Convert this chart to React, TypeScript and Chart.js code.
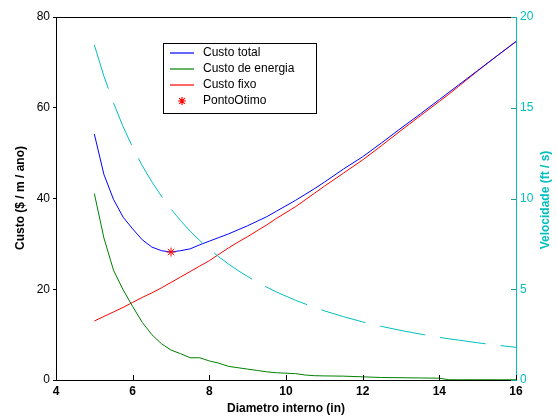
import React, { useEffect, useRef } from "react";
import { Chart, registerables } from "chart.js";

Chart.register(...registerables);

const diameters = [5, 5.25, 5.5, 5.75, 6, 6.25, 6.5, 6.75, 7, 7.25, 7.5, 7.75, 8, 8.25, 8.5, 8.75, 9, 9.25, 9.5, 9.75, 10, 10.25, 10.5, 10.75, 11, 11.5, 12, 12.5, 13, 13.5, 14, 14.25, 14.5, 15, 15.5, 16];
const totalCost = [54.2, 45.3, 39.8, 35.9, 33.3, 30.9, 29.3, 28.5, 28.2, 28.5, 28.9, 29.8, 30.6, 31.4, 32.2, 33.1, 34.0, 35.0, 36.0, 37.2, 38.4, 39.6, 40.9, 42.2, 43.6, 46.5, 49.2, 52.3, 55.5, 58.6, 61.8, 63.4, 65.0, 68.2, 71.4, 74.6];
const energyCost = [41.1, 31.3, 24.2, 19.9, 16.2, 12.7, 10.0, 8.0, 6.6, 5.8, 4.9, 4.9, 4.2, 3.7, 3.0, 2.7, 2.4, 2.1, 1.8, 1.6, 1.5, 1.4, 1.1, 0.95, 0.9, 0.85, 0.7, 0.55, 0.5, 0.45, 0.4, 0.05, 0.05, 0.05, 0.05, 0.05];
const fixedCost = [13.0, 14.0, 15.0, 16.0, 17.1, 18.2, 19.2, 20.3, 21.5, 22.7, 23.9, 25.1, 26.3, 27.7, 29.1, 30.4, 31.6, 32.9, 34.2, 35.6, 36.9, 38.2, 39.7, 41.2, 42.7, 45.6, 48.5, 51.7, 55.0, 58.2, 61.4, 63.0, 64.7, 68.1, 71.4, 74.6];
const velocity = [18.46, 16.74, 15.26, 13.96, 12.82, 11.81, 10.92, 10.13, 9.42, 8.78, 8.20, 7.68, 7.21, 6.78, 6.39, 6.03, 5.70, 5.39, 5.11, 4.85, 4.62, 4.39, 4.19, 3.99, 3.81, 3.49, 3.20, 2.95, 2.73, 2.53, 2.35, 2.27, 2.20, 2.05, 1.92, 1.80];
const optimumX = [7];
const optimumY = [28.2];

const seriesLabels = ["Custo total", "Custo de energia", "Custo fixo", "PontoOtimo"];
const seriesColors = ["#0000ff", "#008000", "#ff0000", "#ff0000"];
const xTitle = "Diametro interno (in)";
const yTitle = "Custo ($ / m / ano)";
const y1Title = "Velocidade (ft / s)";

const FONT = "'Liberation Sans', Arial, Helvetica, sans-serif";
const CYAN = "#00bfbf";

const pts = (xs: number[], ys: number[]) => xs.map((x, i) => ({ x, y: ys[i] }));

const decorPlugin = {
  id: "decor",
  afterDraw(chart: any) {
    const { ctx, chartArea: a, scales } = chart;
    ctx.save();
    ctx.setLineDash([]);
    // top border
    ctx.strokeStyle = "#000000";
    ctx.lineWidth = 1;
    ctx.beginPath();
    ctx.moveTo(a.left, a.top + 0.5);
    ctx.lineTo(a.right, a.top + 0.5);
    ctx.stroke();
    // inward x ticks
    ctx.beginPath();
    scales.x.ticks.forEach((t: any) => {
      const px = Math.round(scales.x.getPixelForValue(t.value)) + 0.5;
      ctx.moveTo(px, a.bottom);
      ctx.lineTo(px, a.bottom - 5);
    });
    ctx.stroke();
    // inward right ticks
    ctx.strokeStyle = "#1a9f9f";
    ctx.beginPath();
    scales.y1.ticks.forEach((t: any) => {
      const py = Math.round(scales.y1.getPixelForValue(t.value)) + 0.5;
      ctx.moveTo(a.right, py);
      ctx.lineTo(a.right - 5, py);
    });
    ctx.stroke();

    // axis titles
    ctx.font = `bold 12px ${FONT}`;
    ctx.textAlign = "center";
    ctx.textBaseline = "middle";
    ctx.fillStyle = "#000000";
    ctx.fillText(xTitle, (a.left + a.right) / 2, 409);
    ctx.save();
    ctx.translate(21, 198);
    ctx.rotate(-Math.PI / 2);
    ctx.fillText(yTitle, 0, 0);
    ctx.restore();
    ctx.save();
    ctx.fillStyle = CYAN;
    ctx.translate(546, 200);
    ctx.rotate(-Math.PI / 2);
    ctx.fillText(y1Title, 0, 0);
    ctx.restore();

    // legend
    const lx = 163.5, ly = 43.5, lw = 153, lh = 70;
    ctx.fillStyle = "#ffffff";
    ctx.fillRect(lx, ly, lw, lh);
    ctx.strokeStyle = "#000000";
    ctx.lineWidth = 1;
    ctx.strokeRect(lx, ly, lw, lh);
    ctx.font = `12px ${FONT}`;
    ctx.textAlign = "left";
    ctx.textBaseline = "middle";
    seriesLabels.forEach((label, i) => {
      const ry = 53 + i * 16;
      ctx.strokeStyle = seriesColors[i];
      ctx.lineWidth = 1.2;
      if (i === 3) {
        const cx = 182, r = 4;
        ctx.beginPath();
        ctx.moveTo(cx - r, ry); ctx.lineTo(cx + r, ry);
        ctx.moveTo(cx, ry - r); ctx.lineTo(cx, ry + r);
        const q = r * 0.707;
        ctx.moveTo(cx - q, ry - q); ctx.lineTo(cx + q, ry + q);
        ctx.moveTo(cx - q, ry + q); ctx.lineTo(cx + q, ry - q);
        ctx.stroke();
      } else {
        ctx.beginPath();
        ctx.moveTo(170, ry);
        ctx.lineTo(194, ry);
        ctx.stroke();
      }
      ctx.fillStyle = "#000000";
      ctx.fillText(label, 203, ry);
    });
    ctx.restore();
  },
};

export default function App() {
  const ref = useRef<HTMLCanvasElement>(null);
  useEffect(() => {
    const chart = new Chart(ref.current as HTMLCanvasElement, {
      type: "line",
      data: {
        datasets: [
          { label: seriesLabels[0], data: pts(diameters, totalCost), borderColor: seriesColors[0], borderWidth: 1, pointRadius: 0, yAxisID: "y", order: 2 },
          { label: seriesLabels[1], data: pts(diameters, energyCost), borderColor: seriesColors[1], borderWidth: 1, pointRadius: 0, yAxisID: "y", order: 3 },
          { label: seriesLabels[2], data: pts(diameters, fixedCost), borderColor: seriesColors[2], borderWidth: 1, pointRadius: 0, yAxisID: "y", order: 4 },
          { label: seriesLabels[3], data: pts(optimumX, optimumY), borderColor: seriesColors[3], backgroundColor: seriesColors[3], showLine: false, pointStyle: "star", pointRadius: 4.5, borderWidth: 1, yAxisID: "y", order: 0 },
          { label: "Velocidade", data: pts(diameters, velocity), borderColor: CYAN, borderWidth: 1, borderDash: [46, 15], pointRadius: 0, yAxisID: "y1", order: 1 },
        ] as any,
      },
      options: {
        responsive: false,
        animation: false,
        layout: { padding: { top: 17, left: 0, right: 0, bottom: 0 } },
        plugins: { legend: { display: false }, tooltip: { enabled: false } },
        scales: {
          x: {
            type: "linear",
            min: 4,
            max: 16,
            afterFit: (s: any) => { s.height = 39; },
            ticks: { stepSize: 2, color: "#000", font: { family: FONT, size: 12, weight: "bold" }, padding: 4 },
            grid: { display: false, drawTicks: false },
            border: { display: true, color: "#000", width: 1 },
          },
          y: {
            type: "linear",
            position: "left",
            min: 0,
            max: 80,
            afterFit: (s: any) => { s.width = 56; },
            ticks: { stepSize: 20, color: "#000", font: { family: FONT, size: 12 }, padding: 3 },
            grid: { display: true, drawOnChartArea: false, drawTicks: true, tickLength: 3, color: "#000" },
            border: { display: true, color: "#000", width: 1 },
          },
          y1: {
            type: "linear",
            position: "right",
            min: 0,
            max: 20,
            afterFit: (s: any) => { s.width = 41; },
            ticks: { stepSize: 5, color: CYAN, font: { family: FONT, size: 12 }, padding: 4 },
            grid: { display: false, drawTicks: false },
            border: { display: true, color: CYAN, width: 1 },
          },
        },
      } as any,
      plugins: [decorPlugin],
    });
    return () => chart.destroy();
  }, []);
  return (
    <div style={{ position: "absolute", left: 0, top: 0, width: 557, height: 419, background: "#fff" }}>
      <canvas ref={ref} width={557} height={419} />
    </div>
  );
}
